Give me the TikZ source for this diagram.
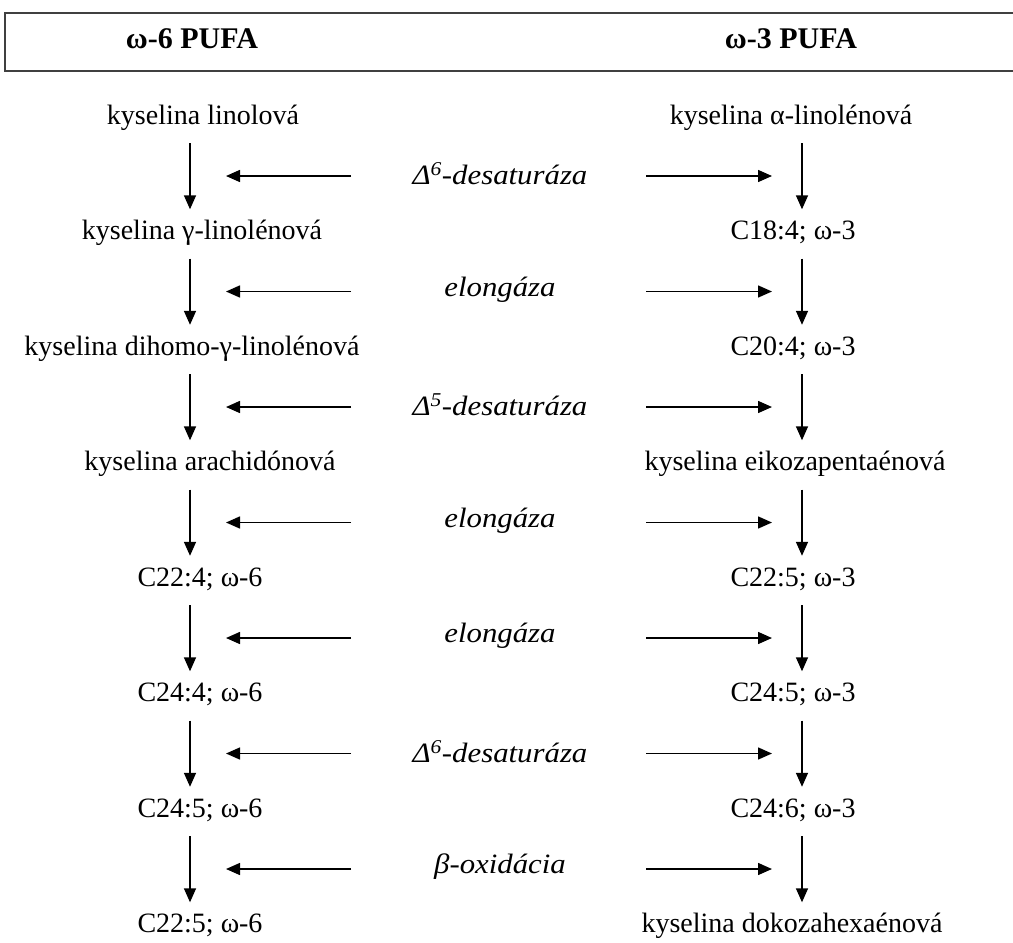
\documentclass[tikz,border=0pt]{standalone}
\usepackage{fontspec}
\setmainfont{Liberation Serif}
\newfontfamily\enzfont{Liberation Serif}[FakeStretch=1.1]
\usetikzlibrary{arrows.meta}
\begin{document}
\begin{tikzpicture}[x=1pt,y=-1pt,
  compound/.style={font=\fontsize{28}{32}\selectfont, inner sep=0pt, text height=20pt, text depth=6pt},
  header/.style={font=\bfseries\fontsize{30}{34}\selectfont, inner sep=0pt},
  enzyme/.style={font=\enzfont\itshape\fontsize{28}{32}\selectfont, inner sep=0pt},
  flow/.style={line width=1.5pt, -{Triangle[length=14pt,width=12pt]}},
  frame/.style={line width=2.4pt, draw=black!75},
]
\useasboundingbox (0,0) rectangle (1013,943);
% header box (open at the right)
\coordinate (bTR) at (1013,13);
\coordinate (bTL) at (5,13);
\coordinate (bBL) at (5,71);
\coordinate (bBR) at (1013,71);
\draw[frame] (bTR) -- (bTL) -- (bBL) -- (bBR);
\node[header] (H6) at (192,39) {ω-6 PUFA};
\node[header] (H3) at (791,39) {ω-3 PUFA};

% arrow columns
\coordinate (axL) at (190,0);
\coordinate (axR) at (802,0);

% left column
\node[compound] (L0) at (203,117) {kyselina linolová};
\node[compound] (L1) at (202,232.5) {kyselina γ-linolénová};
\node[compound] (L2) at (192,348) {kyselina dihomo-γ-linolénová};
\node[compound] (L3) at (210,463.5) {kyselina arachidónová};
\node[compound] (L4) at (200,579) {C22:4; ω-6};
\node[compound] (L5) at (200,694.5) {C24:4; ω-6};
\node[compound] (L6) at (200,810) {C24:5; ω-6};
\node[compound] (L7) at (200,925.5) {C22:5; ω-6};

% right column
\node[compound] (R0) at (791,117) {kyselina α-linolénová};
\node[compound] (R1) at (793,232.5) {C18:4; ω-3};
\node[compound] (R2) at (793,348) {C20:4; ω-3};
\node[compound] (R3) at (795,463.5) {kyselina eikozapentaénová};
\node[compound] (R4) at (793,579) {C22:5; ω-3};
\node[compound] (R5) at (793,694.5) {C24:5; ω-3};
\node[compound] (R6) at (793,810) {C24:6; ω-3};
\node[compound] (R7) at (792,925.5) {kyselina dokozahexaénová};

% enzymes
\node[enzyme] (E0) at (500,174) {Δ\textsuperscript{6}-desaturáza};
\node[enzyme] (E1) at (500,289.5) {elongáza};
\node[enzyme] (E2) at (500,405) {Δ\textsuperscript{5}-desaturáza};
\node[enzyme] (E3) at (500,520.5) {elongáza};
\node[enzyme] (E4) at (500,636) {elongáza};
\node[enzyme] (E5) at (500,751.5) {Δ\textsuperscript{6}-desaturáza};
\node[enzyme] (E6) at (500,867) {β-oxidácia};

\foreach \a/\b in {0/1,1/2,2/3,3/4,4/5,5/6,6/7}{
  \draw[flow, shorten <=13pt, shorten >=10pt] (L\a.south -| axL) -- (L\b.north -| axL);
  \draw[flow, shorten <=13pt, shorten >=10pt] (R\a.south -| axR) -- (R\b.north -| axR);
}
\foreach \e in {0,...,6}{
  \draw[flow] ([xshift=-149pt,yshift=-2pt]E\e.center) -- ([xshift=-274pt,yshift=-2pt]E\e.center);
  \draw[flow] ([xshift=146pt,yshift=-2pt]E\e.center) -- ([xshift=272pt,yshift=-2pt]E\e.center);
}
\end{tikzpicture}
\end{document}
